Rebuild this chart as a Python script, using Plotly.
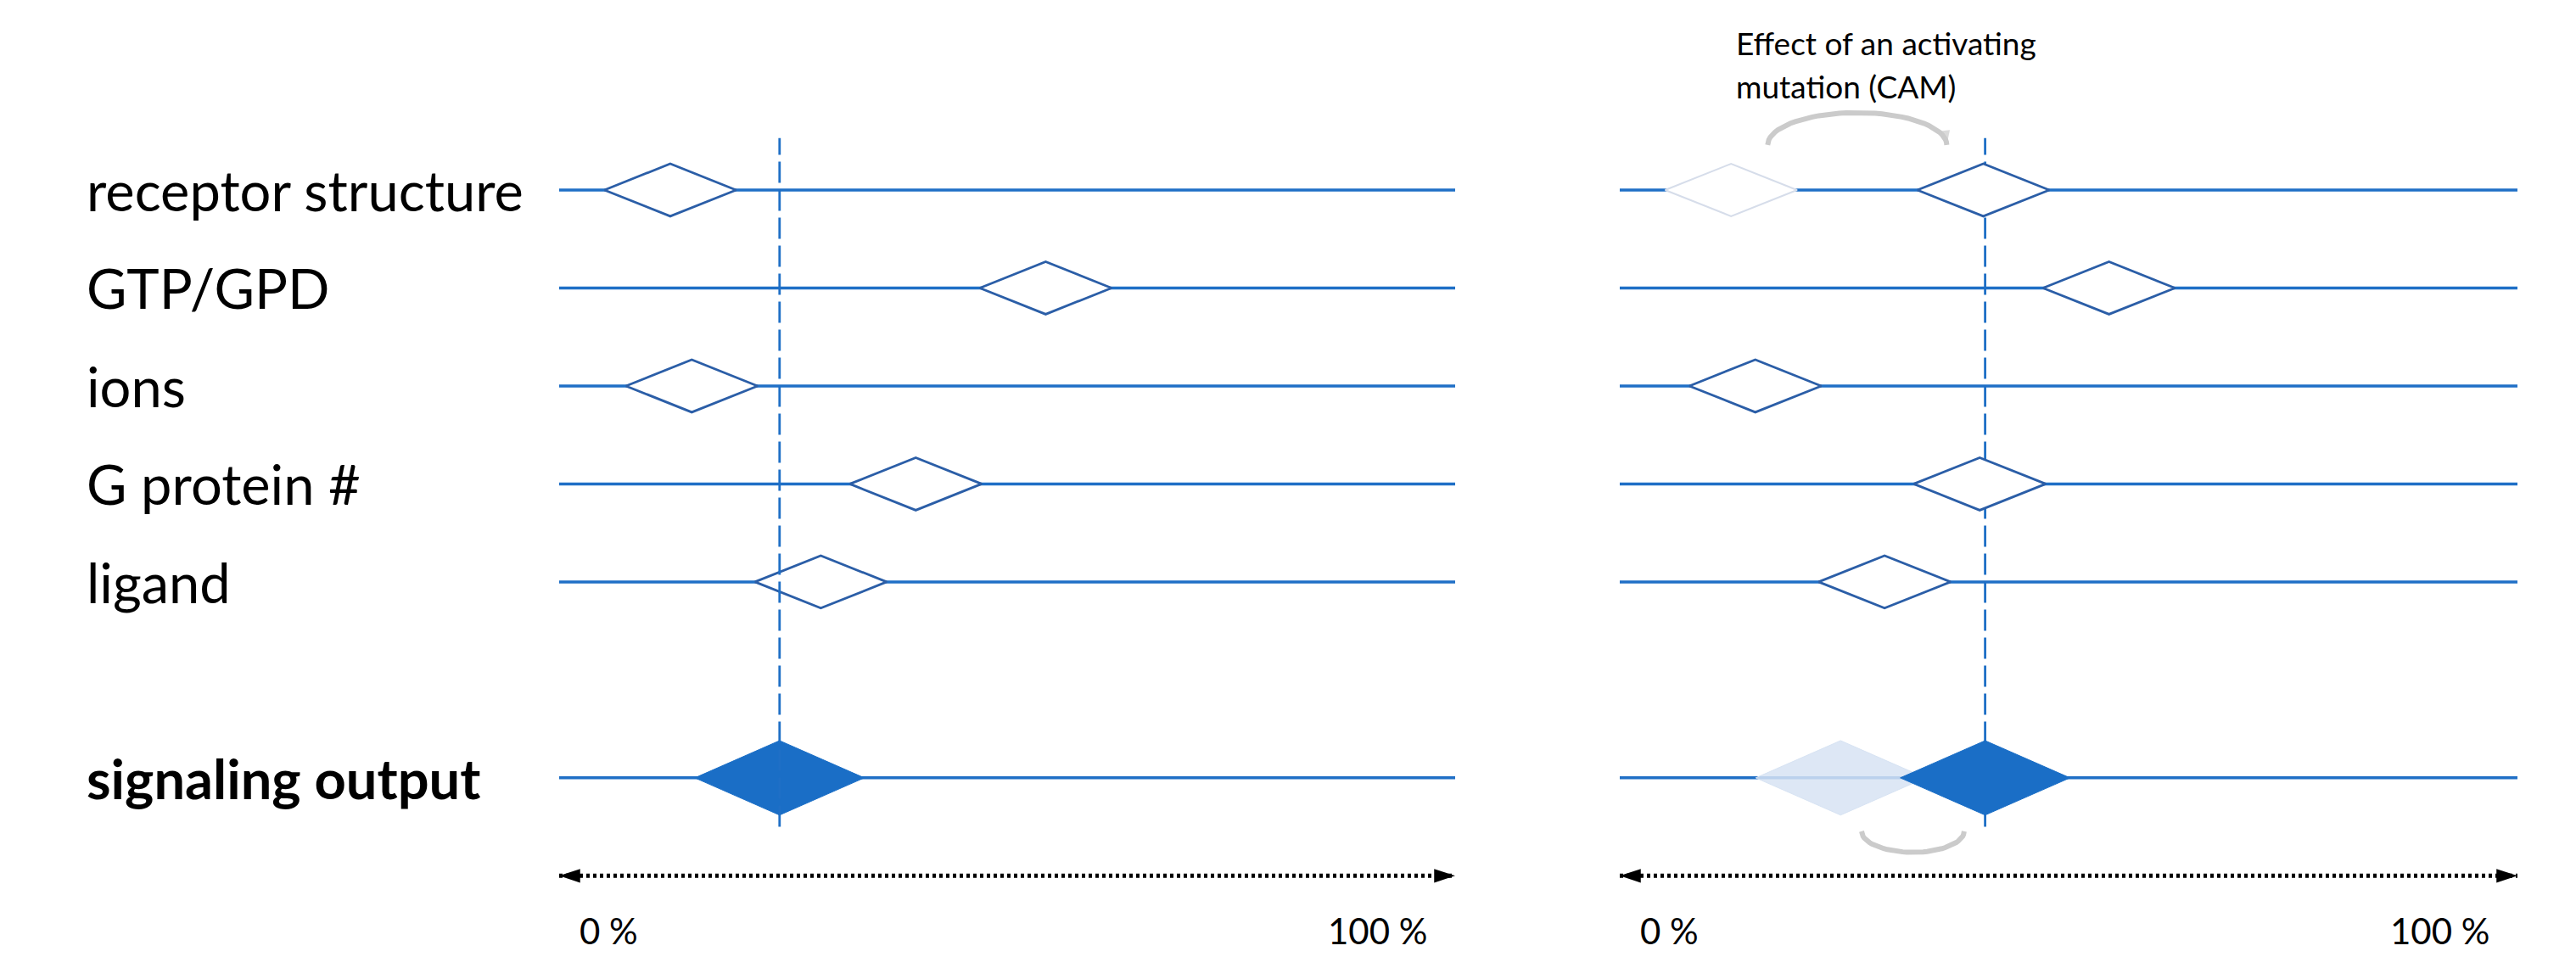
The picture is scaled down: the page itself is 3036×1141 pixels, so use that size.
#!/usr/bin/env python3
"""Basal vs. constitutively active receptor: where each factor sits on a 0-100 % scale."""
import numpy as np
import plotly.graph_objects as go

# ---- data -------------------------------------------------------------
FACTORS = ["receptor structure", "GTP/GPD", "ions", "G protein #", "ligand"]
OUTPUT_LABEL = "signaling output"
BASAL_POS = [12.4, 54.3, 14.8, 39.8, 29.2]      # left panel, % of range
CAM_POS = [40.5, 54.5, 15.1, 40.1, 29.5]        # right panel, % of range
BASAL_OUTPUT = 24.6
CAM_OUTPUT = 40.7
FADED_FACTOR = "receptor structure"             # shown where it was before the mutation
SCALE_TICKS = [0, 100]
SCALE_LABELS = ["0 %", "100 %"]
NOTE_LINES = ["Effect of an activating", "mutation (CAM)"]

# ---- style ------------------------------------------------------------
W, H = 3036, 1141
FONT = "Lato"
LINE_BLUE = "#1F6FC6"
EDGE_BLUE = "#2B5EA7"
FILL_BLUE = "#1A6EC6"
FADED_FILL = "#D7E3F3"
FADED_EDGE = "#D6DDEA"
ARC_GREY = "#CBCBCB"

ROW_Y = {name: 6 - i for i, name in enumerate(FACTORS)}
OUT_Y = 0
HW, HH = 7.35, 0.268          # outline diamond half width (%), half height (rows)
FHW, FHH = 9.45, 0.38         # output diamond


def diamond(xc, yc, hw, hh):
    return [xc - hw, xc, xc + hw, xc, xc - hw], [yc, yc + hh, yc, yc - hh, yc]


def add_diamond(fig, xa, xc, yc, hw, hh, fill, edge, width):
    xs, ys = diamond(xc, yc, hw, hh)
    fig.add_trace(go.Scatter(x=xs, y=ys, xaxis=xa, yaxis="y", mode="lines",
                             fill="toself", fillcolor=fill,
                             line=dict(color=edge, width=width),
                             hoverinfo="skip", showlegend=False))


def add_arc(fig, xa, x_from, x_to, y_base, depth, arrow=False):
    # half-ellipse drawn between two positions on the scale
    mid = (x_from + x_to) / 2
    half = abs(x_to - x_from) / 2 * 0.71
    t = np.linspace(np.pi, 0, 40)
    xs = mid + half * np.cos(t)
    ys = y_base + depth * np.sin(t)
    sizes = [0] * (len(t) - 1) + [18 if arrow else 0]
    fig.add_trace(go.Scatter(x=xs, y=ys, xaxis=xa, yaxis="y", mode="lines+markers",
                             line=dict(color=ARC_GREY, width=6),
                             marker=dict(size=sizes, symbol="arrow", color=ARC_GREY,
                                         angleref="previous", line_width=0),
                             hoverinfo="skip", showlegend=False))


def add_panel(fig, xa, positions, output, faded=None, faded_output=None):
    # baselines
    for name in FACTORS:
        fig.add_trace(go.Scatter(x=SCALE_TICKS, y=[ROW_Y[name]] * 2, xaxis=xa, yaxis="y",
                                 mode="lines", line=dict(color=LINE_BLUE, width=3.5),
                                 hoverinfo="skip", showlegend=False))
    fig.add_trace(go.Scatter(x=SCALE_TICKS, y=[OUT_Y] * 2, xaxis=xa, yaxis="y",
                             mode="lines", line=dict(color=LINE_BLUE, width=3.5),
                             hoverinfo="skip", showlegend=False))

    guide = go.Scatter(x=[output, output], y=[-0.5, 6.53], xaxis=xa, yaxis="y",
                       mode="lines", line=dict(color=LINE_BLUE, width=2.8, dash="25px,8px"),
                       hoverinfo="skip", showlegend=False)
    if faded is not None:
        fig.add_trace(guide)

    if faded is not None:
        add_diamond(fig, xa, faded, ROW_Y[FADED_FACTOR], HW, HH, "white", FADED_EDGE, 2)
    for name, x in zip(FACTORS, positions):
        add_diamond(fig, xa, x, ROW_Y[name], HW, HH, "white", EDGE_BLUE, 2.8)

    if faded_output is not None:
        add_diamond(fig, xa, faded_output, OUT_Y, FHW, FHH, "rgba(215,227,243,0.85)", FADED_FILL, 1)
    add_diamond(fig, xa, output, OUT_Y, FHW, FHH, FILL_BLUE, FILL_BLUE, 1)

    if faded is None:
        fig.add_trace(guide)

    # dotted 0-100 % scale with arrow heads
    fig.add_trace(go.Scatter(x=SCALE_TICKS, y=[-1, -1], xaxis=xa, yaxis="y", mode="lines",
                             line=dict(color="black", width=5, dash="4px,4px"),
                             hoverinfo="skip", showlegend=False))
    fig.add_trace(go.Scatter(x=SCALE_TICKS, y=[-1, -1], xaxis=xa, yaxis="y", mode="markers",
                             marker=dict(symbol="arrow", size=26, color="black",
                                         angle=[-90, 90], line_width=0),
                             hoverinfo="skip", showlegend=False))

    for tick, label in zip(SCALE_TICKS, SCALE_LABELS):
        fig.add_annotation(x=tick, y=-1.56, xref=xa.replace("axis", ""), yref="y",
                           text=label, showarrow=False,
                           xanchor="left" if tick == 0 else "right",
                           xshift=22 if tick == 0 else -30,
                           font=dict(family=FONT, size=42, color="black"))


fig = go.Figure()
add_panel(fig, "x", BASAL_POS, BASAL_OUTPUT)
add_panel(fig, "x2", CAM_POS, CAM_OUTPUT,
          faded=BASAL_POS[FACTORS.index(FADED_FACTOR)], faded_output=BASAL_OUTPUT)

# curved arrows showing the shift caused by the mutation
add_arc(fig, "x2", BASAL_POS[FACTORS.index(FADED_FACTOR)], CAM_POS[FACTORS.index(FADED_FACTOR)],
        6.46, 0.33, arrow=True)
add_arc(fig, "x2", BASAL_OUTPUT, CAM_OUTPUT, -0.545, -0.215)

# row labels
for name in FACTORS:
    fig.add_annotation(x=92 / W, y=ROW_Y[name], xref="paper", yref="y", text=name,
                       showarrow=False, xanchor="left", yanchor="middle",
                       font=dict(family=FONT, size=65, color="black"))
fig.add_annotation(x=92 / W, y=OUT_Y, xref="paper", yref="y", text=f"<b>{OUTPUT_LABEL}</b>",
                   showarrow=False, xanchor="left", yanchor="middle",
                   font=dict(family=FONT, size=65, color="black"))

# note above the right panel
for i, line in enumerate(NOTE_LINES):
    fig.add_annotation(x=12.8, y=7.5 - 0.44 * i, xref="x2", yref="y", text=line,
                       showarrow=False, xanchor="left", yanchor="middle",
                       font=dict(family=FONT, size=37, color="black"))

hidden = dict(visible=False, showgrid=False, zeroline=False, range=[0, 100], fixedrange=True)
fig.update_layout(
    width=W, height=H,
    margin=dict(l=0, r=0, t=0, b=0),
    paper_bgcolor="white", plot_bgcolor="white",
    xaxis=dict(domain=[651 / W, 1707 / W], anchor="y", **hidden),
    xaxis2=dict(domain=[1901 / W, 2959 / W], anchor="y", **hidden),
    yaxis=dict(visible=False, range=[-2.01, 7.87], domain=[0, 1], fixedrange=True),
    showlegend=False,
)

fig.write_html("out.html")
